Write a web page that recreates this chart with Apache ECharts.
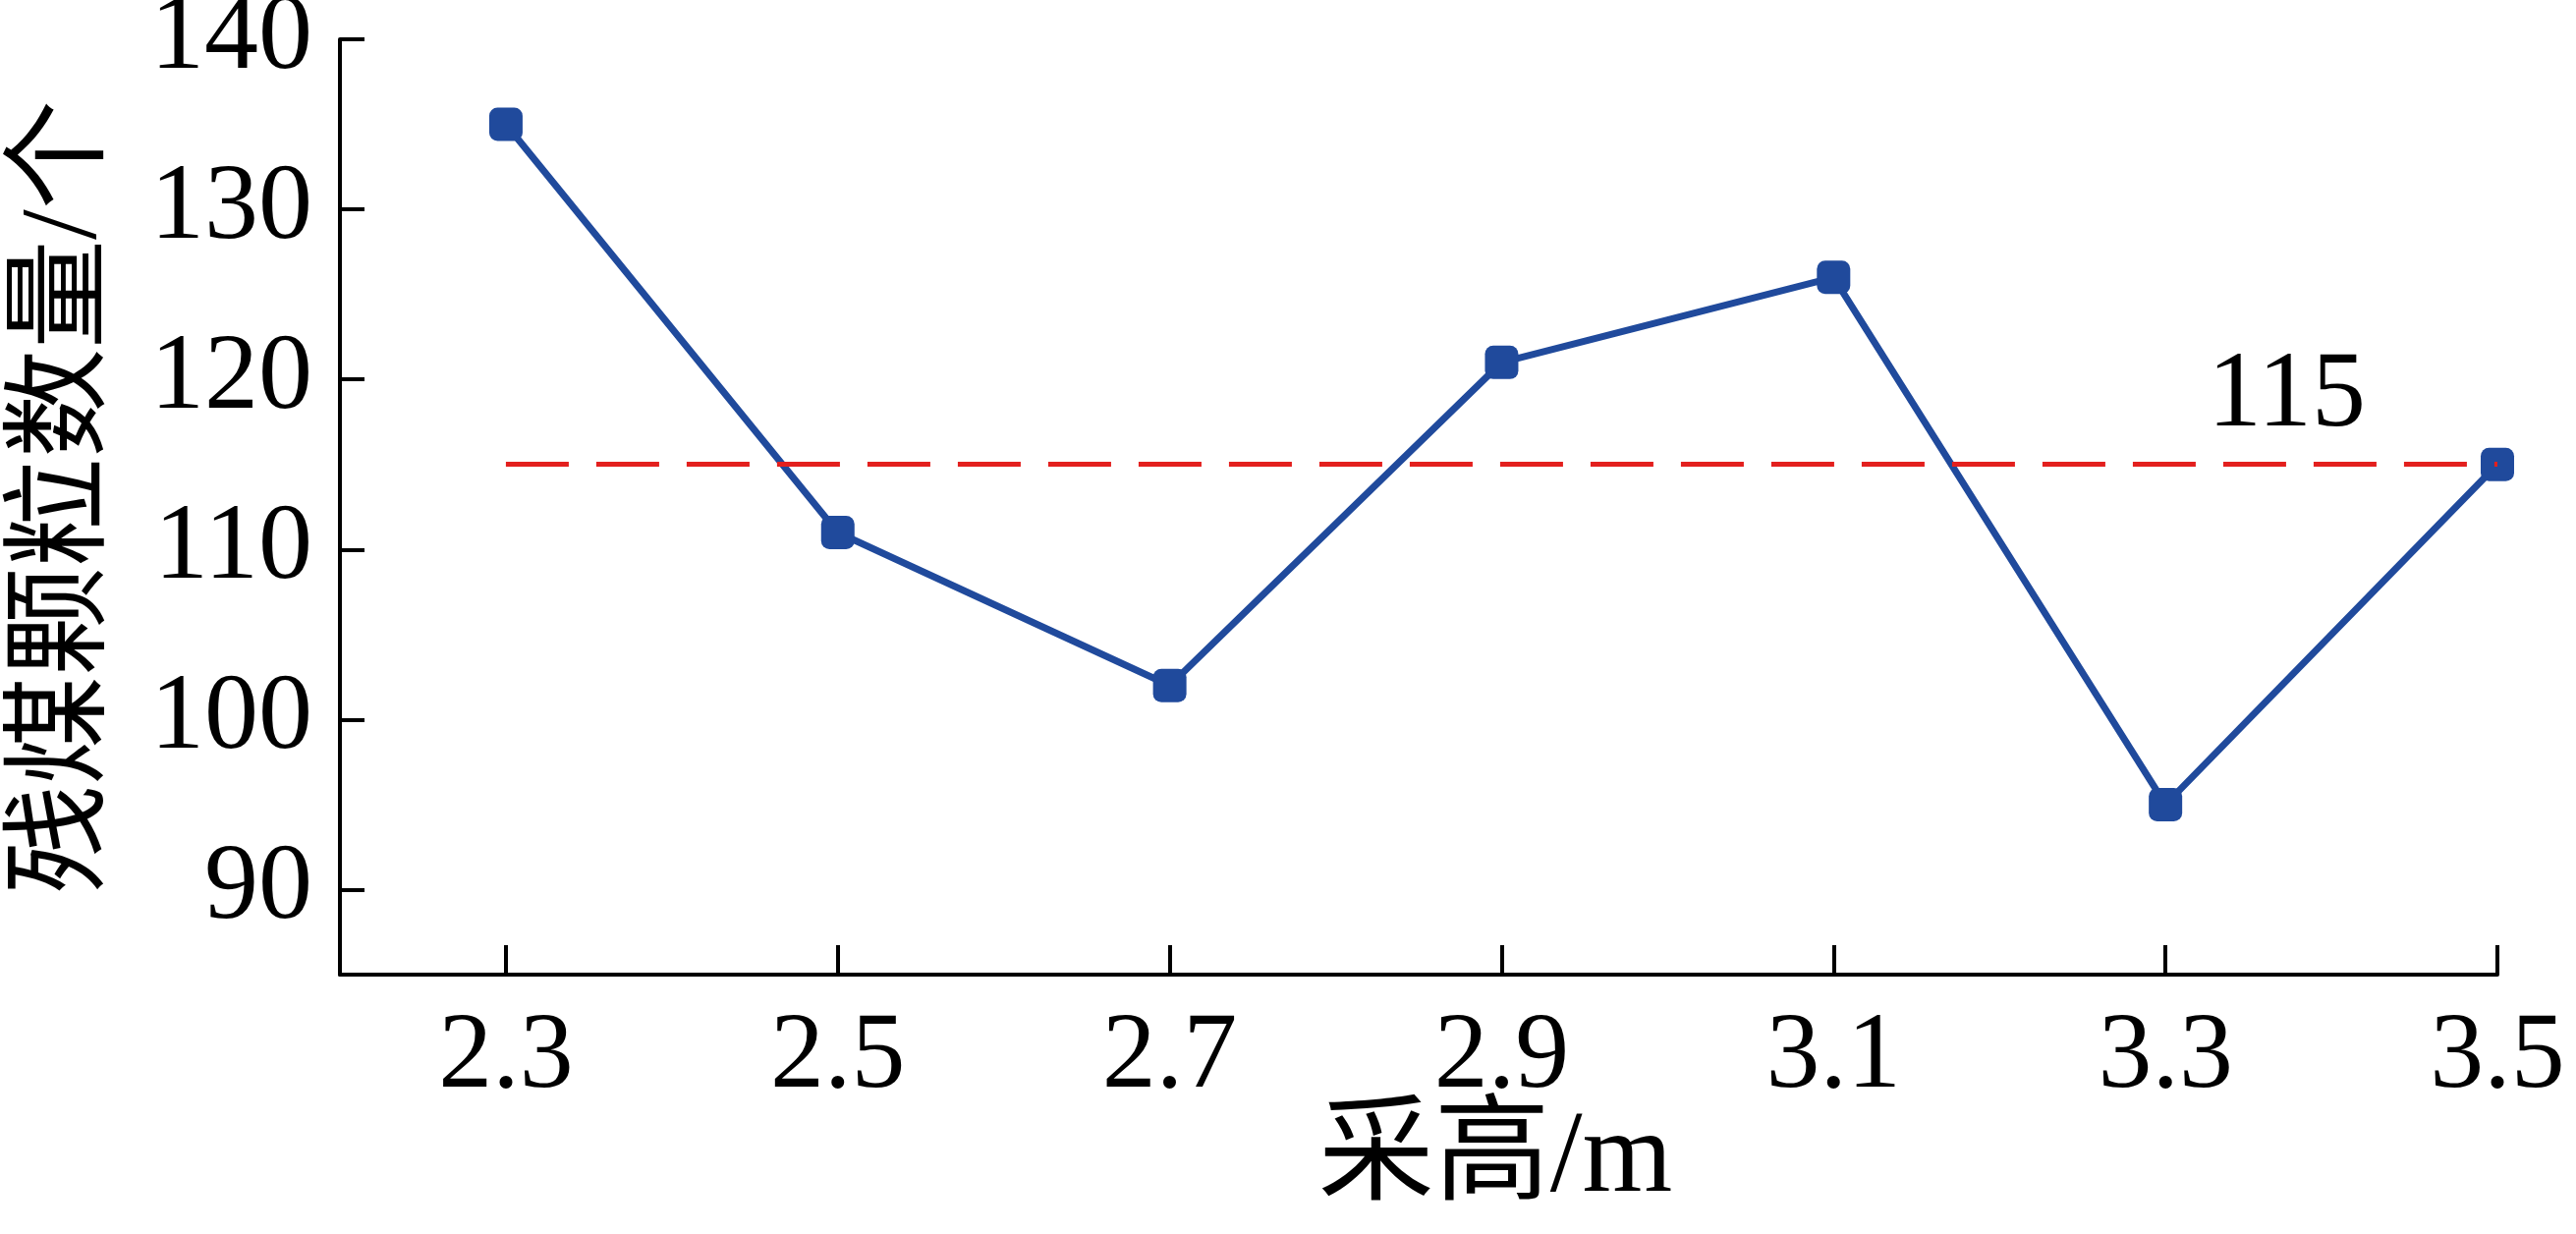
<!DOCTYPE html>
<html><head><meta charset="utf-8">
<script src="https://cdn.jsdelivr.net/npm/echarts@6/dist/echarts.min.js"></script>
<style>html,body{margin:0;padding:0;background:#fff}#c{width:2622px;height:1256px}</style>
</head><body><div id="c"></div>
<script>
const xValues = [2.3, 2.5, 2.7, 2.9, 3.1, 3.3, 3.5];
const counts = [135, 111, 102, 121, 126, 95, 115];
const yTicks = [90, 100, 110, 120, 130, 140];
const refValue = 115;
const xName = '采高/m';
const yName = '残煤颗粒数量/个';

const FONT = "'Liberation Serif', 'Times New Roman', 'Noto Sans CJK SC', serif";
const chart = echarts.init(document.getElementById('c'));
chart.setOption({
  backgroundColor: '#fff',
  animation: false,
  grid: { left: 346, right: 80, top: 40, bottom: 264, outerBoundsMode: 'none', containLabel: false },
  xAxis: {
    type: 'value', min: 2.2, max: 3.5,
    name: xName, nameLocation: 'middle', nameGap: 130, nameMoveOverlap: false,
    nameTextStyle: { fontFamily: FONT, fontSize: 118, color: '#000', padding: [0, 0, 0, 156] },
    axisLine: { show: true, lineStyle: { color: '#000', width: 4 } },
    axisTick: { show: true, inside: true, length: 30, lineStyle: { color: '#000', width: 4 }, customValues: xValues },
    axisLabel: { fontFamily: FONT, fontSize: 110, color: '#000', margin: 30, customValues: xValues,
      formatter: v => v.toFixed(1) },
    splitLine: { show: false }
  },
  yAxis: {
    type: 'value', min: 85, max: 140,
    name: yName, nameLocation: 'middle', nameRotate: 90, nameGap: 223, nameMoveOverlap: false,
    nameTextStyle: { fontFamily: FONT, fontSize: 111, color: '#000', padding: [0, 0, 0, 20] },
    axisLine: { show: true, lineStyle: { color: '#000', width: 4 } },
    axisTick: { show: true, inside: true, length: 25, lineStyle: { color: '#000', width: 4 }, customValues: yTicks },
    axisLabel: { fontFamily: FONT, fontSize: 110, color: '#000', margin: 28, customValues: yTicks },
    splitLine: { show: false }
  },
  series: [{
    type: 'line',
    data: xValues.map((x, i) => [x, counts[i]]),
    symbol: 'roundRect', symbolSize: 34,
    lineStyle: { color: '#204a9c', width: 7 },
    itemStyle: { color: '#204a9c' },
    z: 3,
    markLine: {
      silent: true, symbol: 'none', z: 5,
      lineStyle: { color: '#e3201e', width: 5, type: [64, 28] },
      label: { show: true, position: 'insideEndTop', formatter: String(refValue),
        fontFamily: FONT, fontSize: 110, color: '#000', distance: [134, 14] },
      data: [[{ coord: [xValues[0], refValue] }, { coord: [xValues[xValues.length - 1], refValue] }]]
    }
  }]
});
</script></body></html>
